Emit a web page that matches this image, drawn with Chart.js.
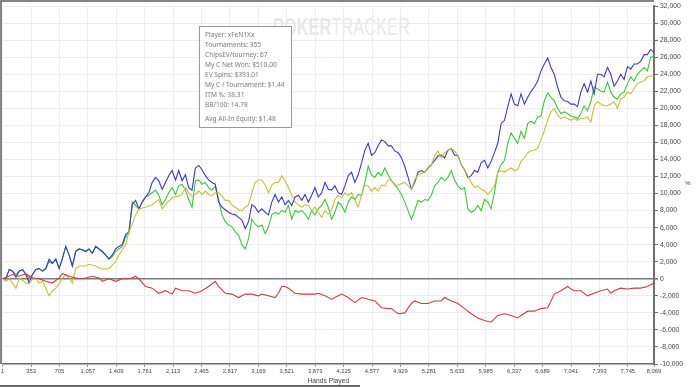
<!DOCTYPE html>
<html><head><meta charset="utf-8">
<script src="https://cdn.jsdelivr.net/npm/chart.js@4.4.1/dist/chart.umd.min.js"></script>
<style>html,body{margin:0;padding:0;background:#fff;overflow:hidden}#wrap{width:700px;height:387px;position:relative}</style>
</head><body><div id="wrap"><canvas id="c" width="700" height="387"></canvas></div>
<script>
const hands = [1,42,83,124,166,207,248,289,330,371,413,454,495,536,577,618,660,701,742,783,824,865,907,948,989,1030,1071,1112,1154,1195,1236,1277,1318,1359,1401,1442,1483,1524,1565,
1607,1648,1689,1730,1771,1812,1853,1895,1936,1977,2018,2059,2100,2142,2183,2224,2265,2306,2347,2389,2430,2471,2512,2553,2594,2635,2677,2718,2759,2800,2841,2882,2924,2965,3006,3047,3088,3129,3170,
3212,3253,3294,3335,3376,3417,3459,3500,3541,3582,3623,3664,3706,3747,3788,3829,3870,3911,3953,3994,4035,4076,4117,4158,4200,4241,4282,4323,4364,4405,4447,4488,4529,4570,4611,4652,4694,4735,4776,
4817,4858,4899,4941,4982,5023,5064,5105,5146,5188,5229,5270,5311,5352,5393,5434,5476,5517,5558,5599,5640,5681,5723,5764,5805,5846,5887,5928,5970,6011,6052,6093,6134,6175,6217,6258,6299,6340,6381,
6422,6464,6505,6546,6587,6628,6669,6711,6752,6793,6834,6875,6916,6958,6999,7040,7081,7122,7163,7204,7246,7287,7328,7369,7410,7451,7493,7534,7575,7616,7657,7698,7740,7781,7822,7863,7904,7946,7987,8028,8069];

// blue
const showdownWinnings = [0,0,1100,900,200,900,1100,500,-500,500,1100,1200,900,1200,2300,1800,2300,1200,2400,3800,2800,1500,3200,3500,3400,3200,3500,3000,3800,3500,3200,2800,2300,2800,3500,3800,4000,5200,5500,
8700,9200,8200,9000,9600,10100,11300,11900,11500,10500,11300,12100,12700,11600,12700,11500,12200,10700,10400,13000,13300,12800,12100,11600,11300,11100,9000,8400,8100,7800,7600,7500,7200,6900,5900,6700,8700,8400,7800,
8200,7800,7500,9000,9900,9000,9600,8700,9200,8600,9600,9800,9200,9900,9000,9800,10700,9600,10100,11300,10500,10400,10900,10100,9900,10900,12100,12500,11300,12200,13600,15100,15900,14500,14800,15600,16300,16100,15600,
15600,15000,14800,14200,13200,11900,10500,11300,12500,12700,12500,13000,13400,13900,14400,14500,14200,15100,15300,14500,14500,13400,12800,11900,12100,12700,12500,13600,13900,13000,13800,14800,15900,18200,18600,20200,21700,20500,20300,
21700,20500,21300,22000,22500,23200,24400,25200,25900,24800,24000,22500,21300,20900,20800,20500,20500,20200,21900,22900,21900,23200,21700,24000,24000,23700,24800,24000,22600,23200,24000,23400,24900,24600,25200,25200,25500,26300,26300,26900,26600];

// green
const netWon = [0,0,1100,900,500,900,1100,500,100,500,1100,1200,900,1200,2000,1800,2300,1200,2400,3800,2800,1500,3200,3500,3400,3200,3500,3000,3800,3500,3200,2800,2300,2600,3200,3500,3800,4900,5300,
9000,8600,8200,9000,9600,9800,10100,10400,9800,8700,9300,10100,10700,9900,10900,11100,10400,9300,8400,11500,11600,11100,11300,10700,10400,10900,9300,7500,6700,6300,6100,5500,5100,4000,3500,4700,7000,6400,6100,
6300,5300,6100,7500,7800,7600,8000,7800,8600,7000,8000,7800,8000,7600,7000,8000,7500,8200,8600,9300,8400,7000,7800,9000,8600,7800,9000,9600,9300,9900,9800,11300,13200,12200,11900,12500,12100,13000,12200,
11500,11100,10500,9900,9000,8000,7000,8000,9200,9000,9300,9200,9800,10900,11300,11900,11500,11900,12700,11600,10900,10500,10700,8200,7800,8000,8600,8000,9300,9000,8200,10100,12500,13400,13900,15900,17100,16500,15900,
17300,16500,18200,18500,18200,19000,19100,20900,21800,21300,20900,20000,19400,19600,19400,19100,19000,18800,19400,20300,19700,20800,22500,22300,22000,21900,23100,21900,21300,21100,21700,21900,22900,23700,23200,24000,24400,24800,24400,26000,26100];

// yellow
const allInAdjusted = [0,-300,0,-500,-1100,100,null,-500,-600,100,0,-500,-300,-1100,-2000,-1400,-1100,-600,100,500,100,-500,1200,1500,null,1500,1700,null,1500,null,1100,null,1200,null,2000,2800,null,4000,5500,
6400,7500,8200,null,8400,null,8700,null,9300,8200,8700,null,9500,null,9700,9900,10700,10100,9700,9900,10300,9900,10300,9900,9700,10100,10100,9700,9200,9200,8700,8400,8100,8000,8400,8700,10100,11300,11600,
11600,11000,10100,11000,11300,11300,12100,11500,10700,9800,9000,8700,8400,8700,8600,8000,8400,7800,7200,8000,7600,8100,9300,9800,9500,10100,9800,10100,9300,8400,9800,11000,10900,10300,10700,10300,11000,10900,11600,
11600,10900,11000,null,11300,null,10500,11600,12200,null,12500,null,13300,14500,15000,14200,14800,15100,15300,15000,14400,13400,12800,12100,11300,10700,10900,10500,10300,9900,10300,10900,12500,12700,12500,12800,13000,12700,12800,
13800,14200,14800,15000,15100,15300,16300,17400,18600,19600,20000,19200,18800,19000,18800,18600,18800,18600,18800,18800,19000,18400,20300,20800,20500,20300,20300,20500,20800,20000,21100,21300,21900,21700,22300,22900,23100,23200,23700,23800,23800];

// red
const nonShowdownWinnings = [0,null,null,500,null,300,null,600,null,100,null,0,null,-300,null,-500,null,100,600,null,300,null,100,0,null,100,null,300,null,100,-300,null,0,null,-300,null,0,null,0,
100,300,0,null,-900,null,-1100,null,-1700,null,-1400,null,-1800,-1100,null,-1400,null,-1400,null,-1700,null,-1400,null,-900,null,-300,-900,null,-1700,null,-1800,null,-2200,null,-1800,null,-1800,null,-2000,
-1800,null,-2000,null,-2200,-1700,-900,-900,-1100,null,-1700,null,-1800,null,-1800,null,-1800,-1700,null,-2000,null,-2400,null,-2000,-1800,null,-2200,null,-2800,null,-2200,null,-2400,null,-2600,null,-3400,null,-3500,
-3500,-3800,-4100,null,-4000,null,-2900,-2600,null,-2900,null,-2900,null,-2600,null,-2600,-2200,null,-2600,null,-2900,null,-3500,null,-4100,null,-4600,null,-4900,null,-5100,null,-4300,null,-4100,null,-4300,null,-4600,
-4300,null,-3800,null,-3800,null,-3500,null,-3400,-2600,-1800,null,-1400,null,-900,-1200,-1400,null,-1400,null,-2000,null,-1700,null,-1400,null,-1200,-1700,-1400,null,-1100,null,-1200,null,-1100,null,-1100,null,-900,null,-500];

const xTicks = [1,353,705,1057,1409,1761,2113,2465,2817,3169,3521,3873,4225,4577,4929,5281,5633,5985,6337,6689,7041,7393,7745,8069];
const yTicks = [-10000,-8000,-6000,-4000,-2000,0,2000,4000,6000,8000,10000,12000,14000,16000,18000,20000,22000,24000,26000,28000,30000,32000];

const infoLines = ["Player: xFeN1Xx","Tournaments: 355","ChipsEV/tourney: 67","My C Net Won: $510.00","EV Spins: $393.01","My C / Tournament: $1.44","ITM %: 38.31","BB/100: 14.78","Avg All-In Equity: $1.48"];
const infoY = [35,45,55,65,75,85,95,105,119];

const fmt = new Intl.NumberFormat('en-US');
const pts = arr => hands.map((h, i) => ({x: h, y: arr[i]}));

const decor = {
  id: 'decor',
  beforeDatasetsDraw(chart) {
    const ctx = chart.ctx;
    ctx.save();
    ctx.fillStyle = '#e8e8e8';
    ctx.textBaseline = 'alphabetic';
    ctx.font = 'bold 23px "Liberation Sans"';
    const w1 = ctx.measureText('POKER').width;
    ctx.font = '23px "Liberation Sans"';
    const w2 = ctx.measureText('TRACKER').width;
    const sx = 137 / (w1 + w2);
    ctx.translate(273, 35);
    ctx.scale(sx, 1);
    ctx.font = 'bold 23px "Liberation Sans"';
    ctx.fillText('POKER', 0, 0);
    ctx.font = '23px "Liberation Sans"';
    ctx.fillText('TRACKER', w1, 0);
    ctx.restore();
  },
  afterDraw(chart) {
    const ctx = chart.ctx, a = chart.chartArea;
    ctx.save();
    ctx.fillStyle = '#858585';
    ctx.fillRect(0, 0, a.right, 2);
    ctx.fillRect(0, 0, 2, a.bottom);
    // info box
    ctx.fillStyle = 'rgba(255,255,255,0.92)';
    ctx.fillRect(199.5, 26.5, 92, 101);
    ctx.strokeStyle = '#9a9a9a';
    ctx.lineWidth = 1;
    ctx.strokeRect(199.5, 26.5, 92, 101);
    ctx.fillStyle = '#7a7a7a';
    ctx.font = '6.6px "Noto Sans"';
    ctx.textBaseline = 'middle';
    ctx.textAlign = 'left';
    infoLines.forEach((t, i) => ctx.fillText(t, 205, infoY[i]));
    // y title
    ctx.fillStyle = '#444';
    ctx.font = '6px "Liberation Sans"';
    ctx.textAlign = 'center';
    ctx.fillText('%', 688, 183);
    // bottom bar
    ctx.fillStyle = '#6a6a6a';
    ctx.fillRect(0, 385, 360, 2);
    ctx.restore();
  }
};

new Chart(document.getElementById('c'), {
  type: 'line',
  data: {
    datasets: [
      {label: 'Non-Showdown Winnings', data: pts(nonShowdownWinnings), borderColor: '#c83e3e'},
      {label: 'All-in Adj', data: pts(allInAdjusted), borderColor: '#c4c03c'},
      {label: 'Showdown Winnings', data: pts(showdownWinnings), borderColor: '#3a3ac4'},
      {label: 'Net Won', data: pts(netWon), borderColor: '#3cc43c'}
    ]
  },
  options: {
    responsive: false,
    animation: false,
    spanGaps: true,
    elements: {point: {radius: 0}, line: {borderWidth: 1.1, tension: 0}},
    layout: {padding: {left: 1, top: 1, right: 0, bottom: 0}},
    plugins: {legend: {display: false}, tooltip: {enabled: false}},
    scales: {
      x: {
        type: 'linear', min: 1, max: 8069,
        afterBuildTicks: s => { s.ticks = xTicks.map(v => ({value: v})); },
        afterFit: s => { s.height = 23; },
        ticks: {autoSkip: false, maxRotation: 0, padding: 1, color: '#444', font: {family: 'Liberation Sans', size: 5.8}, callback: v => fmt.format(v)},
        grid: {color: '#ececec', lineWidth: 1, tickLength: 3, tickColor: '#999'},
        border: {color: '#707070', width: 1.5},
        title: {display: true, text: 'Hands Played', color: '#444', font: {family: 'Liberation Sans', size: 6.7}, padding: {top: 0, bottom: 2}}
      },
      y: {
        position: 'right', min: -10000, max: 32000,
        afterBuildTicks: s => { s.ticks = yTicks.map(v => ({value: v})); },
        afterFit: s => { s.width = 46; },
        ticks: {autoSkip: false, padding: 2, color: '#444', font: {family: 'Liberation Sans', size: 6.8}, callback: v => fmt.format(v)},
        grid: {
          color: c => (c.tick && c.tick.value === 0) ? '#7a7a7a' : '#ececec',
          lineWidth: c => (c.tick && c.tick.value === 0) ? 1.6 : 1,
          tickLength: 4, tickColor: '#707070'
        },
        border: {color: '#707070', width: 2}
      }
    }
  },
  plugins: [decor]
});
</script>
</body></html>
